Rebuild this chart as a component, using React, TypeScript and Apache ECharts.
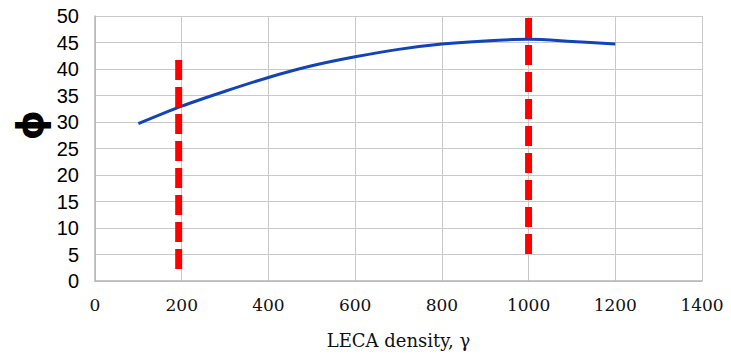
import React, { useEffect, useRef } from "react";
import * as echarts from "echarts";

// LECA density values and friction angle along the fitted curve
const densities = [100, 200, 300, 400, 500, 600, 700, 800, 900, 1000, 1100, 1200];
const phiValues = [29.7, 33.0, 35.8, 38.4, 40.6, 42.3, 43.7, 44.7, 45.3, 45.6, 45.2, 44.7];

// Vertical marker lines: [density, top, bottom]
const lowerMarker = [193, 41.7, 2.2];
const upperMarker = [1000, 49.6, 4.9];

const xTicks = { min: 0, max: 1400, interval: 200 };
const yTicks = { min: 0, max: 50, interval: 5 };

export default function App() {
  const ref = useRef<HTMLDivElement>(null);

  useEffect(() => {
    if (!ref.current) return;
    const chart = echarts.init(ref.current, null, { renderer: "svg" });
    const gridColor = "#c9c9c9";
    const markerStyle = {
      color: "#ff0000",
      width: 7,
      type: [20, 7] as number[],
      cap: "butt" as const,
    };
    chart.setOption({
      animation: false,
      backgroundColor: "#ffffff",
      grid: { left: 95, right: 29, top: 16, bottom: 77, containLabel: false },
      xAxis: {
        type: "value",
        min: xTicks.min,
        max: xTicks.max,
        interval: xTicks.interval,
        name: "LECA density, γ",
        nameLocation: "middle",
        nameGap: 50,
        nameTextStyle: { fontFamily: "'DejaVu Serif', serif", fontSize: 18, color: "#111" },
        axisLine: { show: true, lineStyle: { color: "#b5b5b5", width: 1.5 } },
        axisTick: { show: false },
        axisLabel: {
          margin: 15,
          fontFamily: "'DejaVu Serif', serif",
          fontSize: 17,
          color: "#111",
          formatter: (v: number) => String(v),
        },
        splitLine: { show: true, lineStyle: { color: gridColor, width: 1 } },
      },
      yAxis: {
        type: "value",
        min: yTicks.min,
        max: yTicks.max,
        interval: yTicks.interval,
        axisLine: { show: true, lineStyle: { color: "#b5b5b5", width: 1.5 } },
        axisTick: { show: false },
        axisLabel: {
          margin: 16,
          fontFamily: "Liberation Sans",
          fontSize: 20,
          color: "#000",
          formatter: (v: number) => String(v),
        },
        splitLine: { show: true, lineStyle: { color: gridColor, width: 1 } },
      },
      graphic: [
        {
          type: "text",
          x: 30,
          y: 125,
          rotation: Math.PI / 2,
          style: {
            text: "ϕ",
            font: "bold 38px 'DejaVu Sans'",
            fill: "#000",
            textAlign: "center",
            textVerticalAlign: "middle",
          },
        },
      ],
      series: [
        {
          type: "line",
          data: densities.map((d, i) => [d, phiValues[i]]),
          smooth: 0.3,
          symbol: "none",
          lineStyle: { color: "#1244b8", width: 3 },
          z: 3,
        },
        {
          type: "line",
          data: [
            [lowerMarker[0], lowerMarker[1]],
            [lowerMarker[0], lowerMarker[2]],
          ],
          symbol: "none",
          lineStyle: markerStyle,
          z: 4,
        },
        {
          type: "line",
          data: [
            [upperMarker[0], upperMarker[1]],
            [upperMarker[0], upperMarker[2]],
          ],
          symbol: "none",
          lineStyle: markerStyle,
          z: 4,
        },
      ],
    });
    return () => chart.dispose();
  }, []);

  return (
    <div
      ref={ref}
      style={{ position: "fixed", left: 0, top: 0, width: 731, height: 358 }}
    />
  );
}
